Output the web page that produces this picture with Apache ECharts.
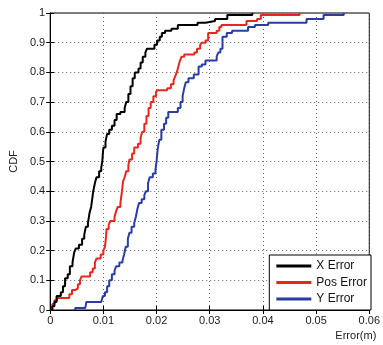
<!DOCTYPE html>
<html>
<head>
<meta charset="utf-8">
<script src="https://cdn.jsdelivr.net/npm/echarts@6/dist/echarts.min.js"></script>
<style>
  html, body { margin: 0; padding: 0; background: #fff; }
  #chart { width: 383px; height: 345px; }
</style>
</head>
<body>
<div id="chart"></div>
<script>
// step points: [error, cdf] where the jump happens
const xErrX = [0, 0.0004, 0.0008, 0.0012, 0.0020, 0.0024, 0.0028, 0.0033, 0.0037, 0.0042, 0.0045, 0.0048, 0.0054, 0.0060, 0.0064, 0.0067, 0.0071, 0.0074, 0.0077, 0.0079, 0.0081, 0.0084, 0.0087, 0.0092, 0.0096, 0.0098, 0.0099, 0.0100, 0.0104, 0.0107, 0.0111, 0.0116, 0.0121, 0.0125, 0.0132, 0.0140, 0.0143, 0.0147, 0.0151, 0.0155, 0.0159, 0.0166, 0.0170, 0.0174, 0.0179, 0.0182, 0.0196, 0.0201, 0.0206, 0.0210, 0.0216, 0.0228, 0.0240, 0.0277, 0.0292, 0.0310, 0.0333, 0.0380];
const xErrY = [0, 0.013, 0.027, 0.047, 0.06, 0.08, 0.107, 0.12, 0.147, 0.16, 0.193, 0.207, 0.22, 0.24, 0.253, 0.28, 0.293, 0.327, 0.347, 0.373, 0.4, 0.427, 0.447, 0.467, 0.48, 0.5, 0.527, 0.547, 0.567, 0.593, 0.607, 0.62, 0.64, 0.66, 0.667, 0.68, 0.7, 0.727, 0.753, 0.78, 0.8, 0.813, 0.833, 0.853, 0.867, 0.88, 0.893, 0.907, 0.92, 0.933, 0.94, 0.947, 0.96, 0.967, 0.973, 0.98, 0.993, 1.0];

const posErrX = [0, 0.0004, 0.0008, 0.0013, 0.0036, 0.0041, 0.0047, 0.0052, 0.0056, 0.0059, 0.0075, 0.0080, 0.0084, 0.0087, 0.0095, 0.0100, 0.0103, 0.0105, 0.0106, 0.0110, 0.0113, 0.0121, 0.0124, 0.0127, 0.0132, 0.0135, 0.0137, 0.0140, 0.0143, 0.0147, 0.0149, 0.0154, 0.0158, 0.0165, 0.0170, 0.0173, 0.0177, 0.0181, 0.0185, 0.0189, 0.0194, 0.0199, 0.0201, 0.0220, 0.0227, 0.0232, 0.0235, 0.0238, 0.0241, 0.0244, 0.0247, 0.0252, 0.0271, 0.0276, 0.0282, 0.0285, 0.0292, 0.0297, 0.0313, 0.0318, 0.0322, 0.0369, 0.0389, 0.0396, 0.0469];
const posErrY = [0, 0.02, 0.033, 0.04, 0.053, 0.067, 0.073, 0.087, 0.1, 0.113, 0.127, 0.14, 0.16, 0.173, 0.187, 0.2, 0.213, 0.247, 0.273, 0.287, 0.3, 0.313, 0.333, 0.347, 0.36, 0.4, 0.433, 0.447, 0.467, 0.487, 0.507, 0.527, 0.547, 0.56, 0.58, 0.6, 0.627, 0.653, 0.68, 0.7, 0.72, 0.733, 0.74, 0.747, 0.76, 0.773, 0.787, 0.8, 0.82, 0.84, 0.853, 0.86, 0.867, 0.88, 0.893, 0.9, 0.907, 0.933, 0.94, 0.953, 0.96, 0.973, 0.98, 0.993, 1.0];

const yErrX = [0.0047, 0.0047, 0.0066, 0.0068, 0.0096, 0.0099, 0.0103, 0.0107, 0.0111, 0.0116, 0.0121, 0.0124, 0.0130, 0.0136, 0.0139, 0.0142, 0.0146, 0.0149, 0.0153, 0.0158, 0.0161, 0.0164, 0.0167, 0.0172, 0.0177, 0.0180, 0.0184, 0.0187, 0.0193, 0.0198, 0.0200, 0.0202, 0.0205, 0.0209, 0.0214, 0.0218, 0.0222, 0.0240, 0.0245, 0.0249, 0.0252, 0.0255, 0.0260, 0.0270, 0.0279, 0.0285, 0.0292, 0.0313, 0.0316, 0.0320, 0.0324, 0.0332, 0.0342, 0.0372, 0.0385, 0.0410, 0.0482, 0.0514, 0.0552];
const yErrY = [0, 0.007, 0.013, 0.027, 0.033, 0.047, 0.06, 0.08, 0.1, 0.12, 0.133, 0.147, 0.16, 0.167, 0.187, 0.213, 0.24, 0.26, 0.28, 0.293, 0.313, 0.34, 0.36, 0.373, 0.387, 0.4, 0.427, 0.447, 0.46, 0.473, 0.5, 0.54, 0.573, 0.607, 0.627, 0.647, 0.667, 0.68, 0.7, 0.72, 0.747, 0.767, 0.78, 0.793, 0.82, 0.827, 0.84, 0.853, 0.867, 0.88, 0.92, 0.933, 0.94, 0.953, 0.96, 0.967, 0.98, 0.993, 1.0];

const seriesNames = ['X Error', 'Pos Error', 'Y Error'];
const seriesColors = ['#000000', '#e8261e', '#2a3ca6'];

const zip = (xs, ys) => xs.map((x, i) => [x, ys[i]]);

const chart = echarts.init(document.getElementById('chart'));
const font = 'Liberation Sans, Arial, sans-serif';

const dotted = { show: true, lineStyle: { color: '#666', width: 1, type: [1, 3] } };

const option = {
    animation: false,
    textStyle: { fontFamily: font },
    grid: { left: 46, right: 12, top: 13, bottom: 35, show: true, borderColor: '#000', borderWidth: 1 },
    legend: {
        orient: 'vertical',
        right: 12,
        bottom: 35,
        backgroundColor: '#fff',
        borderColor: '#000',
        borderWidth: 1,
        borderRadius: 0,
        padding: [4, 4, 4, 7],
        itemGap: 2.5,
        itemWidth: 35,
        itemHeight: 3,
        icon: 'rect',
        textStyle: { fontSize: 12, color: '#111', lineHeight: 14, fontFamily: font },
        data: seriesNames
    },
    xAxis: [{
        type: 'value',
        min: 0,
        max: 0.06,
        interval: 0.01,
        name: 'Error(m)',
        nameLocation: 'end',
        nameGap: 7,
        nameTextStyle: { fontSize: 11, color: '#222', align: 'right', verticalAlign: 'top', padding: [20, 0, 0, 0] },
        axisLine: { lineStyle: { color: '#000', width: 1 } },
        axisTick: { inside: true, length: 4, lineStyle: { color: '#000' } },
        axisLabel: { fontSize: 11, color: '#1a1a1a', margin: 5 },
        splitLine: dotted
    }, {
        type: 'value',
        position: 'top',
        min: 0,
        max: 0.06,
        interval: 0.01,
        axisLine: { lineStyle: { color: '#000', width: 1 } },
        axisTick: { inside: true, length: 4, lineStyle: { color: '#000' } },
        axisLabel: { show: false },
        splitLine: { show: false }
    }],
    yAxis: [{
        type: 'value',
        min: 0,
        max: 1,
        interval: 0.1,
        name: 'CDF',
        nameLocation: 'middle',
        nameRotate: 90,
        nameGap: 28,
        nameTextStyle: { fontSize: 11, color: '#222' },
        axisLine: { lineStyle: { color: '#000', width: 1 } },
        axisTick: { inside: true, length: 4, lineStyle: { color: '#000' } },
        axisLabel: { fontSize: 11, color: '#1a1a1a', margin: 5 },
        splitLine: dotted
    }, {
        type: 'value',
        position: 'right',
        min: 0,
        max: 1,
        interval: 0.1,
        axisLine: { show: true, lineStyle: { color: '#000', width: 1 } },
        axisTick: { show: true, inside: true, length: 4, lineStyle: { color: '#000' } },
        axisLabel: { show: false },
        splitLine: { show: false }
    }],
    series: [
        { name: seriesNames[0], data: zip(xErrX, xErrY) },
        { name: seriesNames[1], data: zip(posErrX, posErrY) },
        { name: seriesNames[2], data: zip(yErrX, yErrY) }
    ].map((s, i) => ({
        ...s,
        type: 'line',
        step: 'end',
        showSymbol: false,
        symbol: 'none',
        color: seriesColors[i],
        lineStyle: { width: 2, color: seriesColors[i] },
        z: 3 - i
    }))
};

chart.setOption(option);
</script>
</body>
</html>
